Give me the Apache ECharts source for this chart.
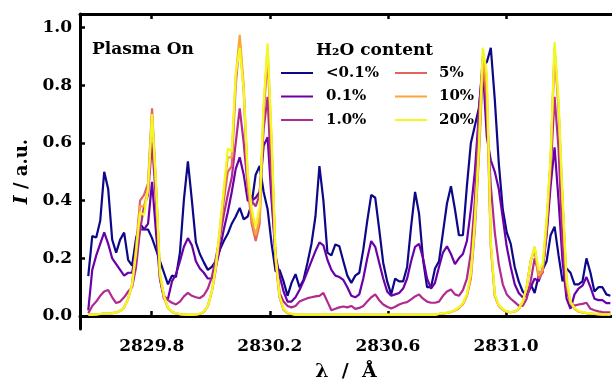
<!DOCTYPE html>
<html>
<head>
<meta charset="utf-8">
<script src="https://cdn.jsdelivr.net/npm/echarts@6/dist/echarts.min.js"></script>
<style>
html, body { margin: 0; padding: 0; background: #fff; }
#chart { width: 612px; height: 387px; }
</style>
</head>
<body>
<div id="chart"></div>
<script>
// wavelength sampling of the spectra (Angstrom)
var lambdaStart = 2829.585;
var lambdaStep = 0.0135;

var seriesNames = ['<0.1%', '0.1%', '1.0%', '5%', '10%', '20%'];
var seriesColors = ['#0d0887', '#6a00a8', '#b12a90', '#e16462', '#fca636', '#f0f921'];

var h2oBelow01 = [
    0.138, 0.277, 0.272, 0.33, 0.50, 0.44, 0.265, 0.22, 0.265, 0.289, 0.195, 0.175,
    0.27, 0.32, 0.30, 0.30, 0.27, 0.23, 0.19, 0.15, 0.11, 0.14, 0.135, 0.22,
    0.404, 0.536, 0.40, 0.255, 0.215, 0.186, 0.16, 0.17, 0.19, 0.23, 0.26, 0.285,
    0.32, 0.345, 0.375, 0.335, 0.345, 0.39, 0.49, 0.52, 0.43, 0.37, 0.25, 0.155,
    0.16, 0.12, 0.07, 0.115, 0.145, 0.10, 0.125, 0.185, 0.25, 0.345, 0.52, 0.40,
    0.22, 0.21, 0.248, 0.242, 0.19, 0.14, 0.115, 0.14, 0.15, 0.23, 0.33, 0.42,
    0.41, 0.30, 0.185, 0.12, 0.075, 0.13, 0.12, 0.12, 0.17, 0.31, 0.43, 0.355,
    0.196, 0.10, 0.10, 0.165, 0.19, 0.29, 0.39, 0.45, 0.37, 0.28, 0.28, 0.45,
    0.60, 0.66, 0.72, 0.87, 0.88, 0.93, 0.75, 0.53, 0.37, 0.29, 0.25, 0.17,
    0.12, 0.085, 0.07, 0.11, 0.08, 0.14, 0.16, 0.19, 0.28, 0.31, 0.21, 0.12,
    0.165, 0.15, 0.11, 0.11, 0.12, 0.20, 0.15, 0.085, 0.10, 0.10, 0.075, 0.07
];
var h2o01 = [
    0.02, 0.16, 0.21, 0.25, 0.29, 0.25, 0.20, 0.18, 0.16, 0.14, 0.15, 0.15,
    0.23, 0.30, 0.30, 0.32, 0.465, 0.29, 0.127, 0.06, 0.06, 0.12, 0.145, 0.19,
    0.24, 0.27, 0.245, 0.19, 0.165, 0.15, 0.13, 0.13, 0.17, 0.23, 0.30, 0.36,
    0.43, 0.51, 0.55, 0.49, 0.40, 0.40, 0.41, 0.43, 0.59, 0.62, 0.40, 0.21,
    0.14, 0.085, 0.05, 0.05, 0.065, 0.09, 0.12, 0.155, 0.19, 0.225, 0.255, 0.245,
    0.195, 0.16, 0.14, 0.135, 0.125, 0.10, 0.07, 0.065, 0.075, 0.13, 0.20, 0.26,
    0.24, 0.185, 0.13, 0.085, 0.07, 0.075, 0.08, 0.095, 0.13, 0.19, 0.24, 0.25,
    0.20, 0.13, 0.095, 0.115, 0.17, 0.22, 0.242, 0.215, 0.18, 0.20, 0.215, 0.26,
    0.37, 0.50, 0.70, 0.86, 0.62, 0.54, 0.50, 0.44, 0.34, 0.24, 0.17, 0.11,
    0.08, 0.065, 0.07, 0.10, 0.13, 0.12, 0.16, 0.28, 0.45, 0.585, 0.40, 0.19,
    0.06, 0.025, 0.075, 0.095, 0.105, 0.135, 0.10, 0.06, 0.055, 0.055, 0.045, 0.045
];
var h2o1 = [
    0.01, 0.035, 0.05, 0.07, 0.085, 0.09, 0.065, 0.045, 0.05, 0.065, 0.085, 0.10,
    0.17, 0.30, 0.38, 0.42, 0.60, 0.40, 0.13, 0.07, 0.055, 0.046, 0.04, 0.05,
    0.068, 0.08, 0.07, 0.065, 0.062, 0.072, 0.095, 0.135, 0.20, 0.27, 0.35, 0.42,
    0.48, 0.60, 0.72, 0.60, 0.45, 0.40, 0.38, 0.42, 0.65, 0.76, 0.45, 0.20,
    0.08, 0.05, 0.035, 0.03, 0.035, 0.05, 0.056, 0.062, 0.065, 0.068, 0.07, 0.08,
    0.05, 0.02, 0.025, 0.03, 0.033, 0.03, 0.035, 0.025, 0.028, 0.035, 0.05, 0.065,
    0.075, 0.055, 0.04, 0.032, 0.026, 0.032, 0.04, 0.045, 0.048, 0.058, 0.068, 0.075,
    0.06, 0.05, 0.046, 0.046, 0.05, 0.07, 0.085, 0.092, 0.075, 0.07, 0.09, 0.13,
    0.22, 0.40, 0.70, 0.90, 0.70, 0.45, 0.29, 0.18, 0.11, 0.075, 0.06, 0.048,
    0.036, 0.035, 0.06, 0.12, 0.20, 0.15, 0.15, 0.30, 0.50, 0.76, 0.58, 0.25,
    0.09, 0.045, 0.036, 0.04, 0.042, 0.046, 0.025, 0.02, 0.016, 0.014, 0.013, 0.013
];
var h2o5 = [
    0.005, 0.005, 0.006, 0.007, 0.008, 0.009, 0.010, 0.012, 0.018, 0.030, 0.060, 0.110,
    0.24, 0.40, 0.42, 0.46, 0.72, 0.45, 0.14, 0.065, 0.028, 0.015, 0.009, 0.006,
    0.005, 0.004, 0.004, 0.005, 0.007, 0.014, 0.034, 0.085, 0.16, 0.28, 0.40, 0.50,
    0.52, 0.80, 0.955, 0.78, 0.45, 0.32, 0.26, 0.32, 0.70, 0.90, 0.58, 0.19,
    0.065, 0.022, 0.010, 0.007, 0.004, 0.004, 0.004, 0.004, 0.004, 0.004, 0.004, 0.004,
    0.004, 0.004, 0.004, 0.004, 0.004, 0.004, 0.004, 0.004, 0.004, 0.004, 0.004, 0.004,
    0.004, 0.004, 0.004, 0.004, 0.004, 0.004, 0.004, 0.004, 0.004, 0.004, 0.004, 0.004,
    0.004, 0.004, 0.004, 0.004, 0.007, 0.009, 0.011, 0.014, 0.02, 0.028, 0.042, 0.07,
    0.13, 0.30, 0.55, 0.86, 0.76, 0.24, 0.07, 0.035, 0.022, 0.015, 0.013, 0.015,
    0.024, 0.048, 0.10, 0.19, 0.23, 0.13, 0.15, 0.31, 0.53, 0.92, 0.72, 0.39,
    0.11, 0.045, 0.026, 0.016, 0.012, 0.010, 0.008, 0.007, 0.006, 0.005, 0.005, 0.005
];
var h2o10 = [
    0.005, 0.005, 0.006, 0.007, 0.008, 0.009, 0.010, 0.012, 0.018, 0.030, 0.060, 0.110,
    0.23, 0.38, 0.38, 0.44, 0.70, 0.45, 0.14, 0.065, 0.028, 0.015, 0.009, 0.006,
    0.005, 0.004, 0.004, 0.005, 0.007, 0.014, 0.034, 0.085, 0.17, 0.30, 0.43, 0.55,
    0.55, 0.83, 0.975, 0.80, 0.48, 0.34, 0.28, 0.34, 0.72, 0.93, 0.60, 0.20,
    0.065, 0.022, 0.010, 0.007, 0.004, 0.004, 0.004, 0.004, 0.004, 0.004, 0.004, 0.004,
    0.004, 0.004, 0.004, 0.004, 0.004, 0.004, 0.004, 0.004, 0.004, 0.004, 0.004, 0.004,
    0.004, 0.004, 0.004, 0.004, 0.004, 0.004, 0.004, 0.004, 0.004, 0.004, 0.004, 0.004,
    0.004, 0.004, 0.004, 0.004, 0.007, 0.009, 0.011, 0.014, 0.02, 0.028, 0.042, 0.07,
    0.14, 0.32, 0.57, 0.89, 0.80, 0.25, 0.07, 0.035, 0.022, 0.015, 0.013, 0.015,
    0.024, 0.048, 0.10, 0.19, 0.24, 0.14, 0.16, 0.32, 0.54, 0.93, 0.72, 0.40,
    0.12, 0.045, 0.026, 0.016, 0.012, 0.010, 0.008, 0.007, 0.006, 0.005, 0.005, 0.005
];
var h2o20 = [
    0.005, 0.005, 0.006, 0.007, 0.008, 0.009, 0.010, 0.012, 0.018, 0.030, 0.060, 0.110,
    0.22, 0.36, 0.35, 0.44, 0.70, 0.46, 0.15, 0.07, 0.03, 0.016, 0.010, 0.007,
    0.006, 0.005, 0.005, 0.006, 0.008, 0.015, 0.035, 0.085, 0.17, 0.30, 0.44, 0.58,
    0.57, 0.84, 0.93, 0.78, 0.50, 0.37, 0.31, 0.38, 0.74, 0.945, 0.62, 0.21,
    0.07, 0.025, 0.012, 0.008, 0.005, 0.005, 0.005, 0.005, 0.005, 0.005, 0.005, 0.005,
    0.005, 0.005, 0.005, 0.005, 0.005, 0.005, 0.005, 0.005, 0.005, 0.005, 0.005, 0.005,
    0.005, 0.005, 0.005, 0.005, 0.005, 0.005, 0.005, 0.005, 0.005, 0.005, 0.005, 0.005,
    0.005, 0.005, 0.005, 0.005, 0.008, 0.010, 0.012, 0.015, 0.022, 0.03, 0.045, 0.075,
    0.15, 0.33, 0.58, 0.93, 0.84, 0.26, 0.075, 0.038, 0.024, 0.016, 0.014, 0.016,
    0.025, 0.05, 0.10, 0.19, 0.24, 0.16, 0.18, 0.34, 0.55, 0.95, 0.75, 0.41,
    0.13, 0.05, 0.028, 0.018, 0.013, 0.011, 0.009, 0.008, 0.007, 0.006, 0.006, 0.006
];

var xTicks = [2829.8, 2830.2, 2830.6, 2831.0];
var yTicks = [0.0, 0.2, 0.4, 0.6, 0.8, 1.0];

var fontFamily = '"DejaVu Serif", serif';

function toPairs(values) {
    var out = [];
    for (var i = 0; i < values.length; i++) {
        out.push([+(lambdaStart + i * lambdaStep).toFixed(4), values[i]]);
    }
    return out;
}

var chart = echarts.init(document.getElementById('chart'));

var allValues = [h2oBelow01, h2o01, h2o1, h2o5, h2o10, h2o20];
var series = [];
for (var s = 0; s < allValues.length; s++) {
    series.push({
        name: seriesNames[s],
        type: 'line',
        data: toPairs(allValues[s]),
        symbol: 'none',
        color: seriesColors[s],
        lineStyle: { width: 2.2, color: seriesColors[s] },
        animation: false
    });
}

var tickStyle = { show: true, inside: true, length: 5, lineStyle: { width: 2.5, color: '#000' } };

// the frame runs past the right edge of the picture: the axis is cut at 612 px
var option = {
    animation: false,
    grid: { left: 80, right: 0, top: 14, bottom: 57 },
    title: {
        text: 'H\u2082O content',
        left: 311,
        top: 37,
        textStyle: { fontFamily: fontFamily, fontWeight: 'bold', fontSize: 17, color: '#000' }
    },
    legend: [{
        data: seriesNames.slice(0, 3),
        orient: 'vertical',
        left: 276,
        top: 60,
        itemWidth: 32,
        itemHeight: 2,
        itemGap: 7.5,
        icon: 'rect',
        selectedMode: false,
        textStyle: { fontFamily: fontFamily, fontWeight: 'bold', fontSize: 15, color: '#000', lineHeight: 16, padding: [0, 0, 0, 8] }
    }, {
        data: seriesNames.slice(3),
        orient: 'vertical',
        left: 390,
        top: 60,
        itemWidth: 32,
        itemHeight: 2,
        itemGap: 7.5,
        icon: 'rect',
        selectedMode: false,
        textStyle: { fontFamily: fontFamily, fontWeight: 'bold', fontSize: 15, color: '#000', lineHeight: 16, padding: [0, 0, 0, 7] }
    }],
    graphic: [{
        type: 'text',
        left: 92,
        top: 41,
        style: { text: 'Plasma On', font: 'bold 17px ' + fontFamily, fill: '#000' }
    }],
    xAxis: [{
        type: 'value',
        position: 'bottom',
        min: 2829.557,
        max: 2831.359,
        name: 'λ  /  Å',
        nameLocation: 'middle',
        nameGap: 34,
        nameTextStyle: { fontFamily: fontFamily, fontWeight: 'bold', fontSize: 19, color: '#000' },
        axisLine: { show: true, lineStyle: { width: 3, color: '#000' } },
        axisTick: Object.assign({ customValues: xTicks }, tickStyle),
        axisLabel: {
            customValues: xTicks,
            margin: 9,
            fontFamily: fontFamily, fontWeight: 'bold', fontSize: 17, color: '#000',
            formatter: function (v) { return v.toFixed(1); }
        },
        splitLine: { show: false }
    }, {
        type: 'value',
        position: 'top',
        min: 2829.557,
        max: 2831.359,
        axisLine: { show: true, lineStyle: { width: 3, color: '#000' } },
        axisTick: Object.assign({ customValues: xTicks }, tickStyle),
        axisLabel: { show: false },
        splitLine: { show: false }
    }],
    yAxis: {
        type: 'value',
        min: -0.045,
        max: 1.047,
        name: '{i|I} / a.u.',
        nameLocation: 'middle',
        nameGap: 44,
        nameTextStyle: {
            fontFamily: fontFamily, fontWeight: 'bold', fontSize: 18, color: '#000',
            rich: { i: { fontFamily: fontFamily, fontWeight: 'bold', fontStyle: 'italic', fontSize: 19, color: '#000' } }
        },
        axisLine: { show: true, lineStyle: { width: 3, color: '#000' } },
        axisTick: Object.assign({ customValues: yTicks }, tickStyle),
        axisLabel: {
            customValues: yTicks,
            margin: 8,
            fontFamily: fontFamily, fontWeight: 'bold', fontSize: 17, color: '#000',
            formatter: function (v) { return v.toFixed(1); }
        },
        splitLine: { show: false }
    },
    series: series
};

chart.setOption(option);
</script>
</body>
</html>
